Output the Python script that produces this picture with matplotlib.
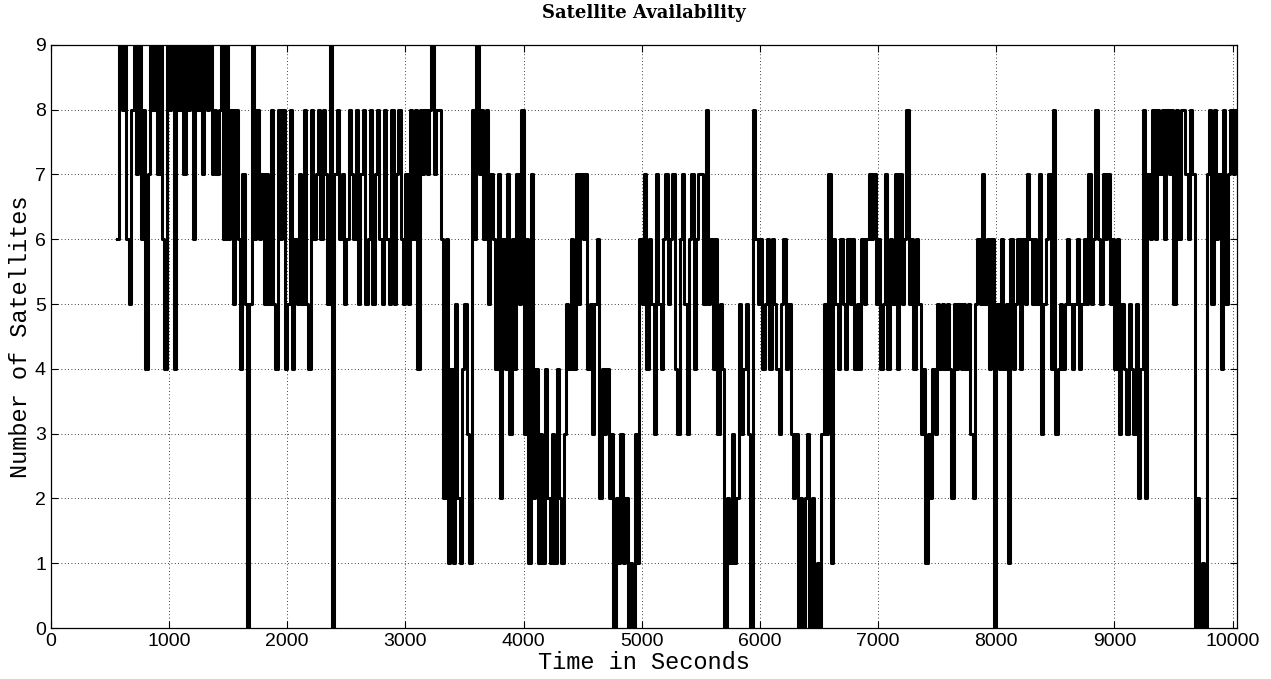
"""
Satellite availability over time (number of visible satellites).
"""

import numpy as np
import matplotlib.pyplot as plt


# ── data: satellite count sampled every 20 s, from 560 s to 10040 s ──────────

t_start = 560
t_step = 20

# 560 .. 980 s
sats_0500 = [6, 9, 8, 9, 6, 5, 8, 9, 7, 9, 6, 8, 4, 7, 9, 8, 9, 7, 9, 6, 4, 9]
# 1000 .. 1480 s
sats_1000 = [8, 9, 4, 9, 8, 9, 7, 9, 8, 9, 6, 9, 8, 9, 7, 9, 8, 9, 7, 8, 7, 8, 9, 6, 9]
# 1500 .. 1980 s
sats_1500 = [6, 8, 5, 8, 6, 4, 7, 5, 0, 5, 9, 6, 8, 6, 7, 5, 7, 5, 8, 5, 4, 8, 6, 8, 4]
# 2000 .. 2480 s
sats_2000 = [5, 8, 4, 6, 5, 7, 5, 8, 5, 4, 8, 6, 7, 8, 6, 8, 7, 5, 9, 0, 7, 8, 6, 7, 5]
# 2500 .. 2980 s
sats_2500 = [6, 8, 7, 6, 8, 5, 7, 8, 5, 6, 8, 5, 7, 8, 6, 5, 8, 6, 5, 8, 5, 7, 8, 6, 5]
# 3000 .. 3480 s
sats_3000 = [7, 5, 8, 6, 8, 4, 8, 7, 8, 7, 8, 9, 7, 8, 8, 6, 2, 6, 1, 4, 1, 5, 2, 1, 4]
# 3500 .. 3980 s
sats_3500 = [5, 3, 1, 8, 6, 9, 7, 8, 6, 8, 5, 7, 6, 4, 7, 2, 6, 4, 7, 3, 6, 4, 7, 5, 8]
# 4000 .. 4480 s
sats_4000 = [3, 6, 1, 7, 2, 4, 1, 3, 1, 4, 2, 1, 3, 1, 4, 2, 1, 3, 5, 4, 6, 4, 7, 5, 7]
# 4500 .. 4980 s
sats_4500 = [6, 7, 4, 5, 3, 5, 6, 2, 4, 3, 4, 2, 3, 0, 2, 1, 3, 1, 2, 0, 1, 0, 3, 1, 6]
# 5000 .. 5480 s
sats_5000 = [5, 7, 4, 6, 5, 3, 7, 5, 4, 6, 7, 5, 6, 7, 4, 3, 6, 7, 5, 3, 6, 7, 4, 6, 7]
# 5500 .. 5980 s
sats_5500 = [7, 5, 8, 5, 6, 4, 6, 3, 5, 4, 0, 2, 1, 3, 1, 2, 5, 3, 4, 5, 3, 0, 8, 6, 5]
# 6000 .. 6480 s
sats_6000 = [6, 4, 5, 6, 4, 6, 5, 4, 3, 5, 6, 4, 5, 3, 2, 3, 0, 2, 0, 2, 3, 0, 2, 0, 1]
# 6500 .. 6980 s
sats_6500 = [0, 3, 5, 3, 7, 1, 6, 5, 4, 6, 5, 4, 6, 5, 6, 4, 5, 4, 6, 5, 6, 7, 6, 7, 5]
# 7000 .. 7480 s
sats_7000 = [6, 4, 5, 7, 4, 6, 5, 7, 4, 7, 5, 6, 8, 5, 6, 4, 6, 5, 3, 4, 1, 3, 2, 4, 3]
# 7500 .. 7980 s
sats_7500 = [5, 4, 5, 4, 5, 4, 2, 5, 4, 5, 4, 5, 4, 5, 3, 2, 5, 6, 5, 7, 5, 6, 4, 6, 0]
# 8000 .. 8480 s
sats_8000 = [5, 4, 6, 4, 5, 1, 6, 4, 5, 6, 4, 6, 5, 7, 6, 5, 6, 5, 7, 3, 5, 6, 7, 4, 8]
# 8500 .. 8980 s
sats_8500 = [3, 4, 5, 4, 5, 6, 5, 4, 5, 6, 4, 5, 6, 5, 7, 5, 6, 8, 6, 5, 7, 6, 7, 5, 6]
# 9000 .. 9480 s
sats_9000 = [4, 6, 3, 5, 4, 3, 5, 4, 3, 5, 2, 4, 8, 2, 7, 6, 8, 6, 8, 7, 8, 6, 8, 7, 8]
# 9500 .. 9980 s
sats_9500 = [5, 8, 6, 8, 8, 7, 6, 8, 7, 0, 2, 0, 1, 0, 7, 8, 5, 8, 6, 7, 4, 8, 5, 7, 8]
# 10000 .. 10040 s
sats_10000 = [7, 8, 8]

sats = np.array(sats_0500 + sats_1000 + sats_1500 + sats_2000 + sats_2500
                + sats_3000 + sats_3500 + sats_4000 + sats_4500 + sats_5000
                + sats_5500 + sats_6000 + sats_6500 + sats_7000 + sats_7500
                + sats_8000 + sats_8500 + sats_9000 + sats_9500 + sats_10000)
time_s = t_start + t_step * np.arange(len(sats))


# ── plot ─────────────────────────────────────────────────────────────────────

fig = plt.figure(figsize=(12.71, 6.79), dpi=100)
ax = fig.add_axes([0.040, 0.075, 0.933, 0.859])

ax.plot(time_s, sats, color='black', linewidth=2.2, drawstyle='steps-post')

ax.set_xlim(0, 10035)
ax.set_ylim(0, 9)
ax.set_xticks(np.arange(0, 10001, 1000))
ax.set_yticks(np.arange(0, 10, 1))

ax.grid(True, color='black', linestyle=(0, (1, 3)), linewidth=0.6)
ax.tick_params(direction='in', top=True, right=True, length=5, width=0.8,
               labelsize=14)
for lbl in ax.get_xticklabels() + ax.get_yticklabels():
    lbl.set_family('Liberation Sans')
for sp in ax.spines.values():
    sp.set_linewidth(0.9)

ax.set_title("Satellite Availability", family='DejaVu Serif',
             fontweight='bold', fontsize=13, pad=19)
ax.set_xlabel("Time in Seconds", family='Liberation Mono', fontsize=17,
              labelpad=1)
ax.set_ylabel("Number of Satellites", family='Liberation Mono', fontsize=17,
              labelpad=2)

fig.savefig("out.png", dpi=100)
